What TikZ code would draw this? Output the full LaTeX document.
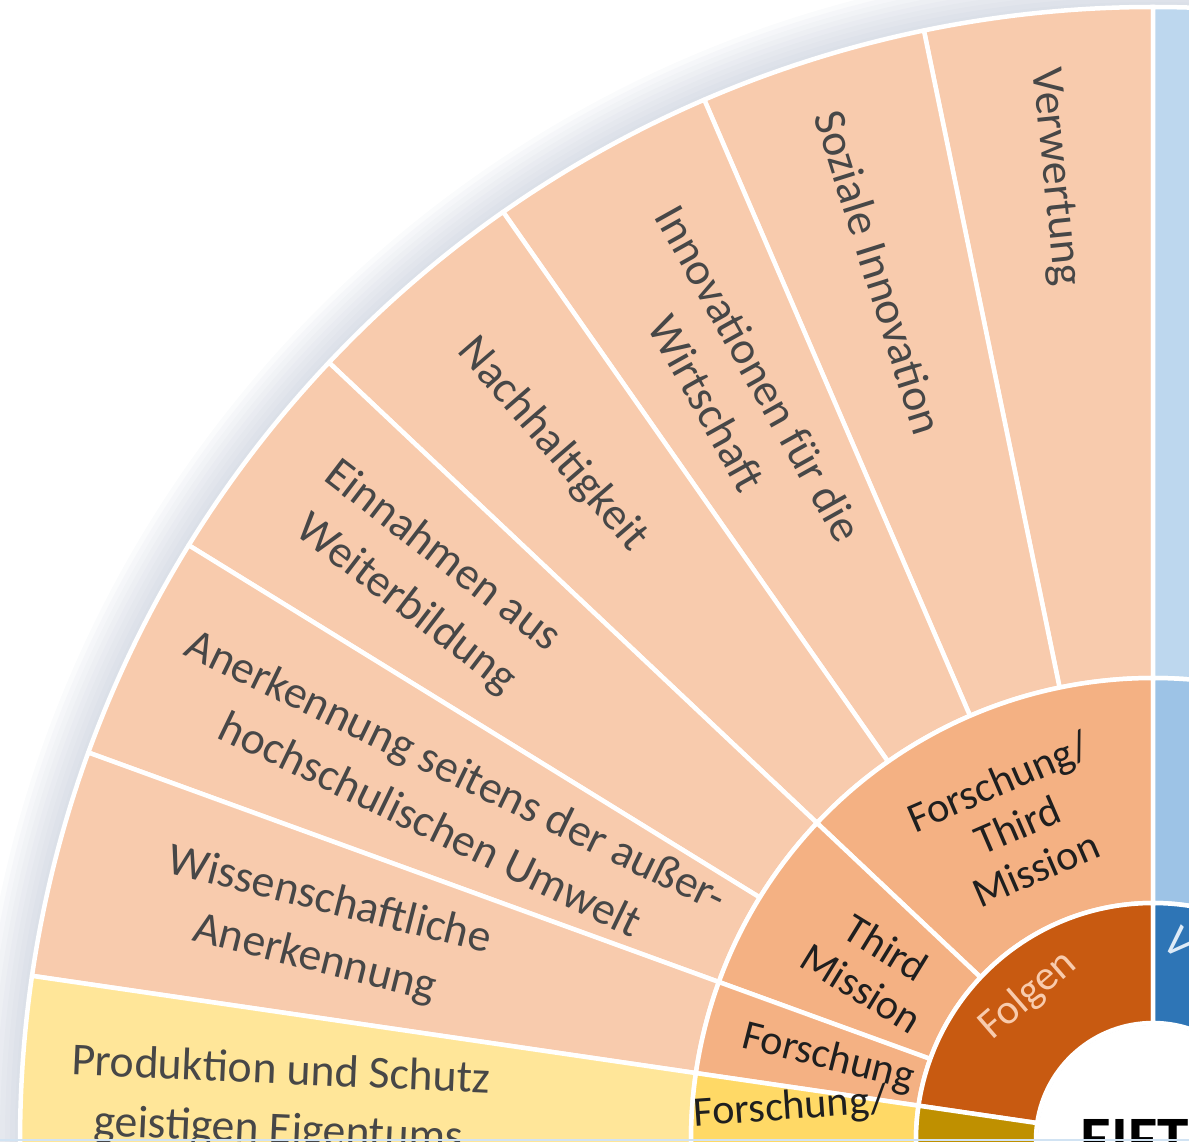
\documentclass[tikz,border=0pt]{standalone}
\usepackage{fontspec}
\setmainfont{Carlito}
\usepackage{tikz}
\usetikzlibrary{arrows.meta, positioning}

\definecolor{peachout}{RGB}{248,203,173}
\definecolor{peachmid}{RGB}{244,177,131}
\definecolor{rust}{RGB}{200,90,17}
\definecolor{yellowout}{RGB}{255,230,153}
\definecolor{yellowmid}{RGB}{255,217,102}
\definecolor{gold}{RGB}{191,144,0}
\definecolor{blueout}{RGB}{189,215,238}
\definecolor{bluemid}{RGB}{157,195,230}
\definecolor{bluein}{RGB}{46,117,182}
\definecolor{shadowgray}{RGB}{170,180,200}

% one piece of a ring: fill, start angle, end angle, inner r, outer r
\newcommand{\ringpart}[5]{%
  \filldraw[seg, fill=#1] (#2:#4) arc[start angle=#2, end angle=#3, radius=#4]
    -- (#3:#5) arc[start angle=#3, end angle=#2, radius=#5] -- cycle;}

\begin{document}
\begin{tikzpicture}[x=0.1mm, y=0.1mm,
        seg/.style={draw=white, line width=0.45mm, line join=round},
        far/.style={align=center, inner sep=0pt, text=black!72, font=\fontsize{13}{17}\selectfont},
        near/.style={align=center, inner sep=0pt, text=black!88, font=\fontsize{12}{13.5}\selectfont}]

        \useasboundingbox (-1153,-1) rectangle (36,1140);
        \clip (-1153,-1) rectangle (36,1140);

        % Shadow
        \foreach \d in {45,40,...,5}
            \fill[shadowgray, opacity=0.06] (0,0) circle[radius=1133+\d];

        % Sectors
        \foreach \i in {0,...,6}{
            \pgfmathsetmacro{\a}{90+\i*35/3}
            \pgfmathsetmacro{\b}{\a+35/3}
            \ringpart{peachout}{\a}{\b}{462}{1133}
        }
        \ringpart{yellowout}{171.667}{183.333}{462}{1133}
        \ringpart{blueout}{30}{90}{462}{1133}

        \ringpart{peachmid}{90}{136.667}{237}{462}
        \ringpart{peachmid}{136.667}{160}{237}{462}
        \ringpart{peachmid}{160}{171.667}{237}{462}
        \ringpart{yellowmid}{171.667}{200}{237}{462}
        \ringpart{bluemid}{30}{90}{237}{462}

        \ringpart{rust}{90}{171.667}{117}{237}
        \ringpart{gold}{171.667}{200}{117}{237}
        \ringpart{bluein}{30}{90}{117}{237}

        \fill[white] (0,0) circle[radius=115];

        % Labels
        \node[far, rotate=-84.17] (verw) at (95.83:968) {Verwertung};
        \node[far, rotate=-72.5] (sozinno) at (107.5:910) {Soziale Innovation};
        \node[far, rotate=-60.83] (wirt) at (119.17:861) {Innovationen für die\\Wirtschaft};
        \node[far, rotate=-49.17] (nach) at (130.83:919) {Nachhaltigkeit};
        \node[far, rotate=-37.5] (einn) at (142.5:919) {Einnahmen aus\\Weiterbildung};
        \node[far, rotate=-25.83] (anerk) at (154.17:788) {Anerkennung seitens der außer-\\hochschulischen Umwelt};
        \node[far, rotate=-14.17] (wiss) at (165.83:857) {Wissenschaftliche\\Anerkennung};
        \node[far, rotate=-2.5] (prod) at (177.5:874) {Produktion und Schutz\\geistigen Eigentums};

        \node[near, rotate=23.33] (ftm) at (113.33:343) {Forschung/\\Third\\Mission};
        \node[near, rotate=-31.67] (tm) at (148.33:328) {Third\\Mission};
        \node[near, rotate=-14.17] (fo) at (165.83:335) {Forschung};
        \node[near, rotate=4] (fo2) at (175:364) {Forschung/};

        \node[near, text=peachout, rotate=40.83] (folg) at (130.83:191) {Folgen};
        \node[near, text=blueout!50!white, font=\fontsize{13}{15}\selectfont\itshape, rotate=-40] (vor) at (27,197) {V};
        \node[anchor=base west, inner sep=0pt, font=\fontsize{18}{20}\selectfont\bfseries] (core) at (-73,-20) {EIFT};

        \fill[blueout!70] (-1153,-1) rectangle (36,1.5);
    \end{tikzpicture}
\end{document}
